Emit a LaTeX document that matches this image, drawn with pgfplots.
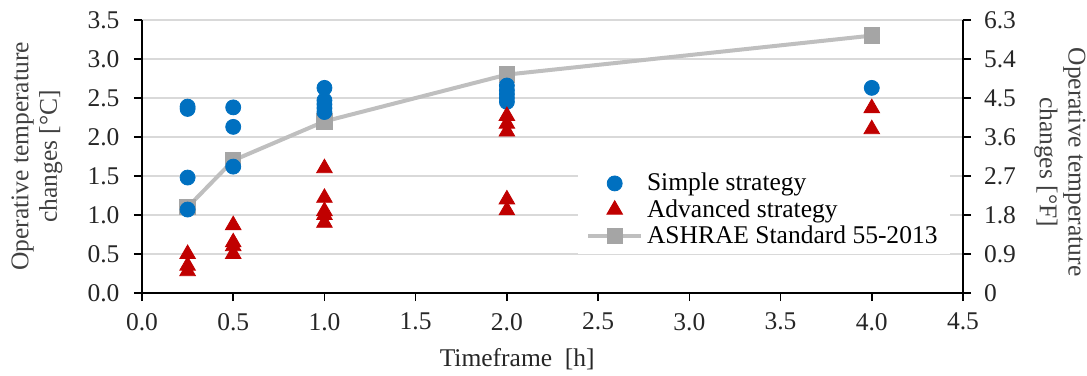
\documentclass[border=0pt]{standalone}
\usepackage{fontspec}
\setmainfont{Liberation Serif}
\usepackage{pgfplots}
\pgfplotsset{compat=1.18}
\definecolor{cblue}{HTML}{0070C0}
\definecolor{cred}{HTML}{C00000}
\definecolor{cgrayl}{HTML}{BFBFBF}
\definecolor{cgraym}{HTML}{A5A5A5}
\definecolor{cgrid}{HTML}{D9D9D9}
\definecolor{ctext}{HTML}{262626}
\definecolor{clabel}{HTML}{404040}
\newcommand{\chartfont}{\fontsize{12.8}{14.4}\selectfont}
\begin{document}
\begin{tikzpicture}
\useasboundingbox (-71bp,-41.5bp) rectangle (472.5bp,146.5bp);
\begin{axis}[
  at={(0,0)}, anchor=south west,
  scale only axis, width=410.5bp, height=136.5bp,
  xmin=0, xmax=4.5, ymin=0, ymax=3.5,
  xtick={0,0.5,1,1.5,2,2.5,3,3.5,4,4.5},
  ytick={0,0.5,1,1.5,2,2.5,3,3.5},
  axis x line*=bottom, axis y line*=left,
  axis line style={line width=0.75bp, black, -},
  tick style={line width=0.75bp, black},
  tick align=outside, major tick length=4bp,
  ymajorgrids, grid style={cgrid, line width=0.75bp},
  /pgf/number format/assume math mode=true,
  /pgf/number format/fixed, /pgf/number format/fixed zerofill, /pgf/number format/precision=1,
  xticklabel shift=2.5bp,
  yticklabel shift=3.75bp,
  tick label style={font=\chartfont, text=ctext},
  label style={font=\chartfont, text=ctext},
  xlabel={Timeframe\ \ [h]},
  xlabel style={at={(axis description cs:0.457,-0.242)}, anchor=center},
  ylabel={Operative temperature\\changes [°C]},
  ylabel style={align=center, text=clabel, at={(axis description cs:-0.128,0.5)}, anchor=center},
  legend style={at={(0.531,0.47)}, anchor=north west, fill=white, draw=none,
    font=\chartfont, text=black, legend cell align=left, inner xsep=4bp, inner ysep=2bp,
    row sep=-1.2bp},
  legend image code/.code={\draw[mark repeat=2,mark phase=2,#1] plot coordinates {(0cm,0cm)(0.465cm,0cm)(0.93cm,0cm)};},
]
\addplot[cgrayl, line width=2bp, mark=square*, mark size=3.1bp,
  mark options={fill=cgraym, draw=cgraym}, forget plot]
  coordinates {(0.25,1.1) (0.5,1.7) (1,2.2) (2,2.8) (4,3.3)};
\addplot[only marks, mark=*, mark size=3.75bp, color=cblue, mark options={fill=cblue, draw=cblue}]
  coordinates {
  (0.25,2.36) (0.25,2.39) (0.25,1.48) (0.25,1.07)
  (0.5,2.38) (0.5,2.13) (0.5,1.62)
  (1,2.63) (1,2.47) (1,2.42) (1,2.37) (1,2.32)
  (2,2.66) (2,2.60) (2,2.55) (2,2.50) (2,2.45)
  (4,2.63)};
\addlegendentry{Simple strategy}
\addplot[only marks, mark=triangle*, mark size=4.5bp, color=cred, mark options={fill=cred, draw=cred}]
  coordinates {
  (0.25,0.50) (0.25,0.35) (0.25,0.28)
  (0.5,0.87) (0.5,0.65) (0.5,0.60) (0.5,0.50)
  (1,1.60) (1,1.22) (1,1.05) (1,1.00) (1,0.90)
  (2,2.27) (2,2.17) (2,2.07) (2,1.20) (2,1.06)
  (4,2.37) (4,2.10)};
\addlegendentry{Advanced strategy}
\addlegendimage{cgrayl, line width=2bp, mark=square*, mark size=3.1bp, mark options={fill=cgraym, draw=cgraym}}
\addlegendentry{ASHRAE Standard 55-2013}
\end{axis}
\begin{axis}[
  at={(0,0)}, anchor=south west,
  scale only axis, width=410.5bp, height=136.5bp,
  xmin=0, xmax=4.5, ymin=0, ymax=6.3,
  axis x line=none, axis y line*=right,
  axis line style={line width=0.75bp, black, -},
  tick style={line width=0.75bp, black},
  tick align=outside, major tick length=4bp,
  ytick={0,0.9,1.8,2.7,3.6,4.5,5.4,6.3},
  yticklabels={0,0.9,1.8,2.7,3.6,4.5,5.4,6.3},
  yticklabel shift=3bp,
  tick label style={font=\chartfont, text=ctext},
  label style={font=\chartfont, text=ctext},
  ylabel={Operative temperature\\changes [°F]},
  ylabel style={rotate=180, align=center, text=clabel, at={(axis description cs:1.118,0.48)}, anchor=center},
]
\end{axis}
\end{tikzpicture}
\end{document}
